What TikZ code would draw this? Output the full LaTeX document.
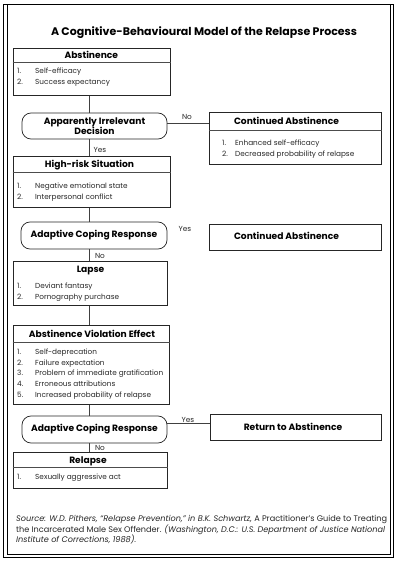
\documentclass[tikz,border=0pt]{standalone}
\usepackage{fontspec}
\setmainfont{Poppins}
\usetikzlibrary{calc}
\newlength\fitlen
\newcommand\fitsz[3]{\settowidth{\fitlen}{\fontsize{10pt}{12pt}\selectfont #3}\pgfmathsetmacro#1{10*#2/\fitlen}}
\newcommand\hfont{\fontsize{\hsz}{10}\selectfont\bfseries}
\newcommand\tfont{\fontsize{\tsz}{12}\selectfont\bfseries}
\newcommand\ifont{\fontsize{\isz}{11}\selectfont}
\newcommand\sfont{\fontsize{\ssz}{11}\selectfont}
\AtBeginDocument{%
\fitsz\hsz{105}{\bfseries Continued Abstinence}%
\fitsz\tsz{306}{\bfseries A Cognitive-Behavioural Model of the Relapse Process}%
\fitsz\isz{128}{Problem of immediate gratification}%
\fitsz\ssz{371}{\itshape Source: W.D. Pithers, “Relapse Prevention,” in B.K. Schwartz, \upshape A Practitioner’s Guide to Treating}%
}
\begin{document}
\begin{tikzpicture}[x=1pt,y=-1pt,
  boxframe/.style={draw=black!85, line width=0.75pt, inner sep=0pt, anchor=north west},
  decbox/.style={draw=black!85, line width=0.75pt, rounded corners=9pt, inner sep=0pt, align=center, font=\hfont},
  conn/.style={draw=black!75, line width=0.6pt},
  sepline/.style={draw=black!70, line width=0.5pt},
  head/.style={font=\hfont, inner sep=0pt, anchor=base},
  itm/.style={font=\ifont, text=black!85, inner sep=0pt, anchor=base west},
  lbl/.style={font=\ifont, text=black!85, inner sep=0pt, anchor=base},
  src/.style={font=\sfont, text=black!85, inner sep=0pt, anchor=base west}]
\useasboundingbox (0,0) rectangle (400,564);
% frame
\draw[line width=0.8pt] (3,4) rectangle (393.5,557.5);
\draw[line width=0.8pt] (7,4) rectangle (390.5,554);
\coordinate (spine) at (89,0);
% title
\node[font=\tfont, inner sep=0pt, anchor=base] (title) at (204,36) {A Cognitive-Behavioural Model of the Relapse Process};
% Abstinence
\node[boxframe, minimum width=157.3pt, minimum height=47pt] (abst) at (12.7,48) {};
\node[head] (absth) at (91.3,58.5) {Abstinence};
\draw[sepline] (abst.west |- 0,62) -- (abst.east |- 0,62);
\node[itm] (abst1) at (17,73.5) {\makebox[18pt][l]{1.}Self-efficacy};
\node[itm] (abst2) at (17,84.5) {\makebox[18pt][l]{2.}Success expectancy};
% Decision 1
\node[decbox, minimum width=145pt, minimum height=26pt] (dec1) at (94.5,126) {Apparently Irrelevant\\Decision};
% Continued Abstinence 1
\node[boxframe, minimum width=172pt, minimum height=52pt] (cont1) at (209,112) {};
\node[head] (cont1h) at (286.5,124.3) {Continued Abstinence};
\draw[sepline] (cont1.west |- 0,130) -- (cont1.east |- 0,130);
\node[itm] (cont11) at (222,145.5) {\makebox[13pt][l]{1.}Enhanced self-efficacy};
\node[itm] (cont12) at (222,156.5) {\makebox[13pt][l]{2.}Decreased probability of relapse};
% High-risk
\node[boxframe, minimum width=157.3pt, minimum height=51pt] (hr) at (12.7,156) {};
\node[head] (hrh) at (89.5,167.3) {High-risk Situation};
\draw[sepline] (hr.west |- 0,172) -- (hr.east |- 0,172);
\node[itm] (hr1) at (17,188.5) {\makebox[18pt][l]{1.}Negative emotional state};
\node[itm] (hr2) at (17,199.5) {\makebox[18pt][l]{2.}Interpersonal conflict};
% Decision 2
\node[decbox, minimum width=146pt, minimum height=27pt] (dec2) at (94,235.5) {Adaptive Coping Response};
% Continued Abstinence 2
\node[boxframe, minimum width=172pt, minimum height=26pt] (cont2) at (209,224) {};
\node[head] (cont2h) at (286.5,239.3) {Continued Abstinence};
% Lapse
\node[boxframe, minimum width=154.3pt, minimum height=44pt] (lapse) at (12.7,261) {};
\node[head] (lapseh) at (90.5,272.3) {Lapse};
\node[itm] (lapse1) at (17,288.5) {\makebox[18pt][l]{1.}Deviant fantasy};
\node[itm] (lapse2) at (17,299.5) {\makebox[18pt][l]{2.}Pornography purchase};
% AVE
\node[boxframe, minimum width=156.3pt, minimum height=79pt] (ave) at (12.7,325) {};
\node[head] (aveh) at (92,337.3) {Abstinence Violation Effect};
\draw[sepline] (ave.west |- 0,342) -- (ave.east |- 0,342);
\node[itm] (ave1) at (17,354.5) {\makebox[18pt][l]{1.}Self-deprecation};
\node[itm] (ave2) at (17,365.2) {\makebox[18pt][l]{2.}Failure expectation};
\node[itm] (ave3) at (17,375.9) {\makebox[18pt][l]{3.}Problem of immediate gratification};
\node[itm] (ave4) at (17,386.6) {\makebox[18pt][l]{4.}Erroneous attributions};
\node[itm] (ave5) at (17,397.3) {\makebox[18pt][l]{5.}Increased probability of relapse};
% Decision 3
\node[decbox, minimum width=145pt, minimum height=27pt] (dec3) at (94.5,429.5) {Adaptive Coping Response};
% Return
\node[boxframe, minimum width=171pt, minimum height=26pt] (ret) at (210,414) {};
\node[head] (reth) at (293,430.3) {Return to Abstinence};
% Relapse
\node[boxframe, minimum width=154.3pt, minimum height=36pt] (rel) at (12.7,452) {};
\node[head] (relh) at (88,463.3) {Relapse};
\draw[sepline] (rel.west |- 0,467) -- (rel.east |- 0,467);
\node[itm] (rel1) at (17,479.5) {\makebox[18pt][l]{1.}Sexually aggressive act};
% connectors
\draw[conn] (abst.south -| spine) -- (dec1.north -| spine);
\draw[conn] (dec1.south -| spine) -- (hr.north -| spine);
\draw[conn] (hr.south -| spine) -- (dec2.north -| spine);
\draw[conn] (dec2.south -| spine) -- (lapse.north -| spine);
\draw[conn] (lapse.south -| spine) -- (ave.north -| spine);
\draw[conn] (ave.south -| spine) -- (dec3.north -| spine);
\draw[conn] (dec3.south -| spine) -- (rel.north -| spine);
\draw[conn] ([yshift=3pt]dec1.east) -- ([yshift=3pt]dec1.east -| cont1.west);
\draw[conn] ([yshift=6pt]dec3.east) -- ([yshift=6pt]dec3.east -| ret.west);
% labels
\node[lbl] (l1) at (187,119.6) {No};
\node[lbl] (l2) at (100,152.6) {Yes};
\node[lbl] (l3) at (185,231.6) {Yes};
\node[lbl] (l4) at (100,258.6) {No};
\node[lbl] (l5) at (188,422.6) {Yes};
\node[lbl] (l6) at (100,450.4) {No};
% source
\node[src] (s1) at (16,521.5) {\itshape Source: W.D. Pithers, “Relapse Prevention,” in B.K. Schwartz, \upshape A Practitioner’s Guide to Treating};
\node[src] (s2) at (16,532.5) {the Incarcerated Male Sex Offender. \itshape (Washington, D.C.: U.S. Department of Justice National};
\node[src] (s3) at (16,542.8) {\itshape Institute of Corrections, 1988).};
\end{tikzpicture}
\end{document}
